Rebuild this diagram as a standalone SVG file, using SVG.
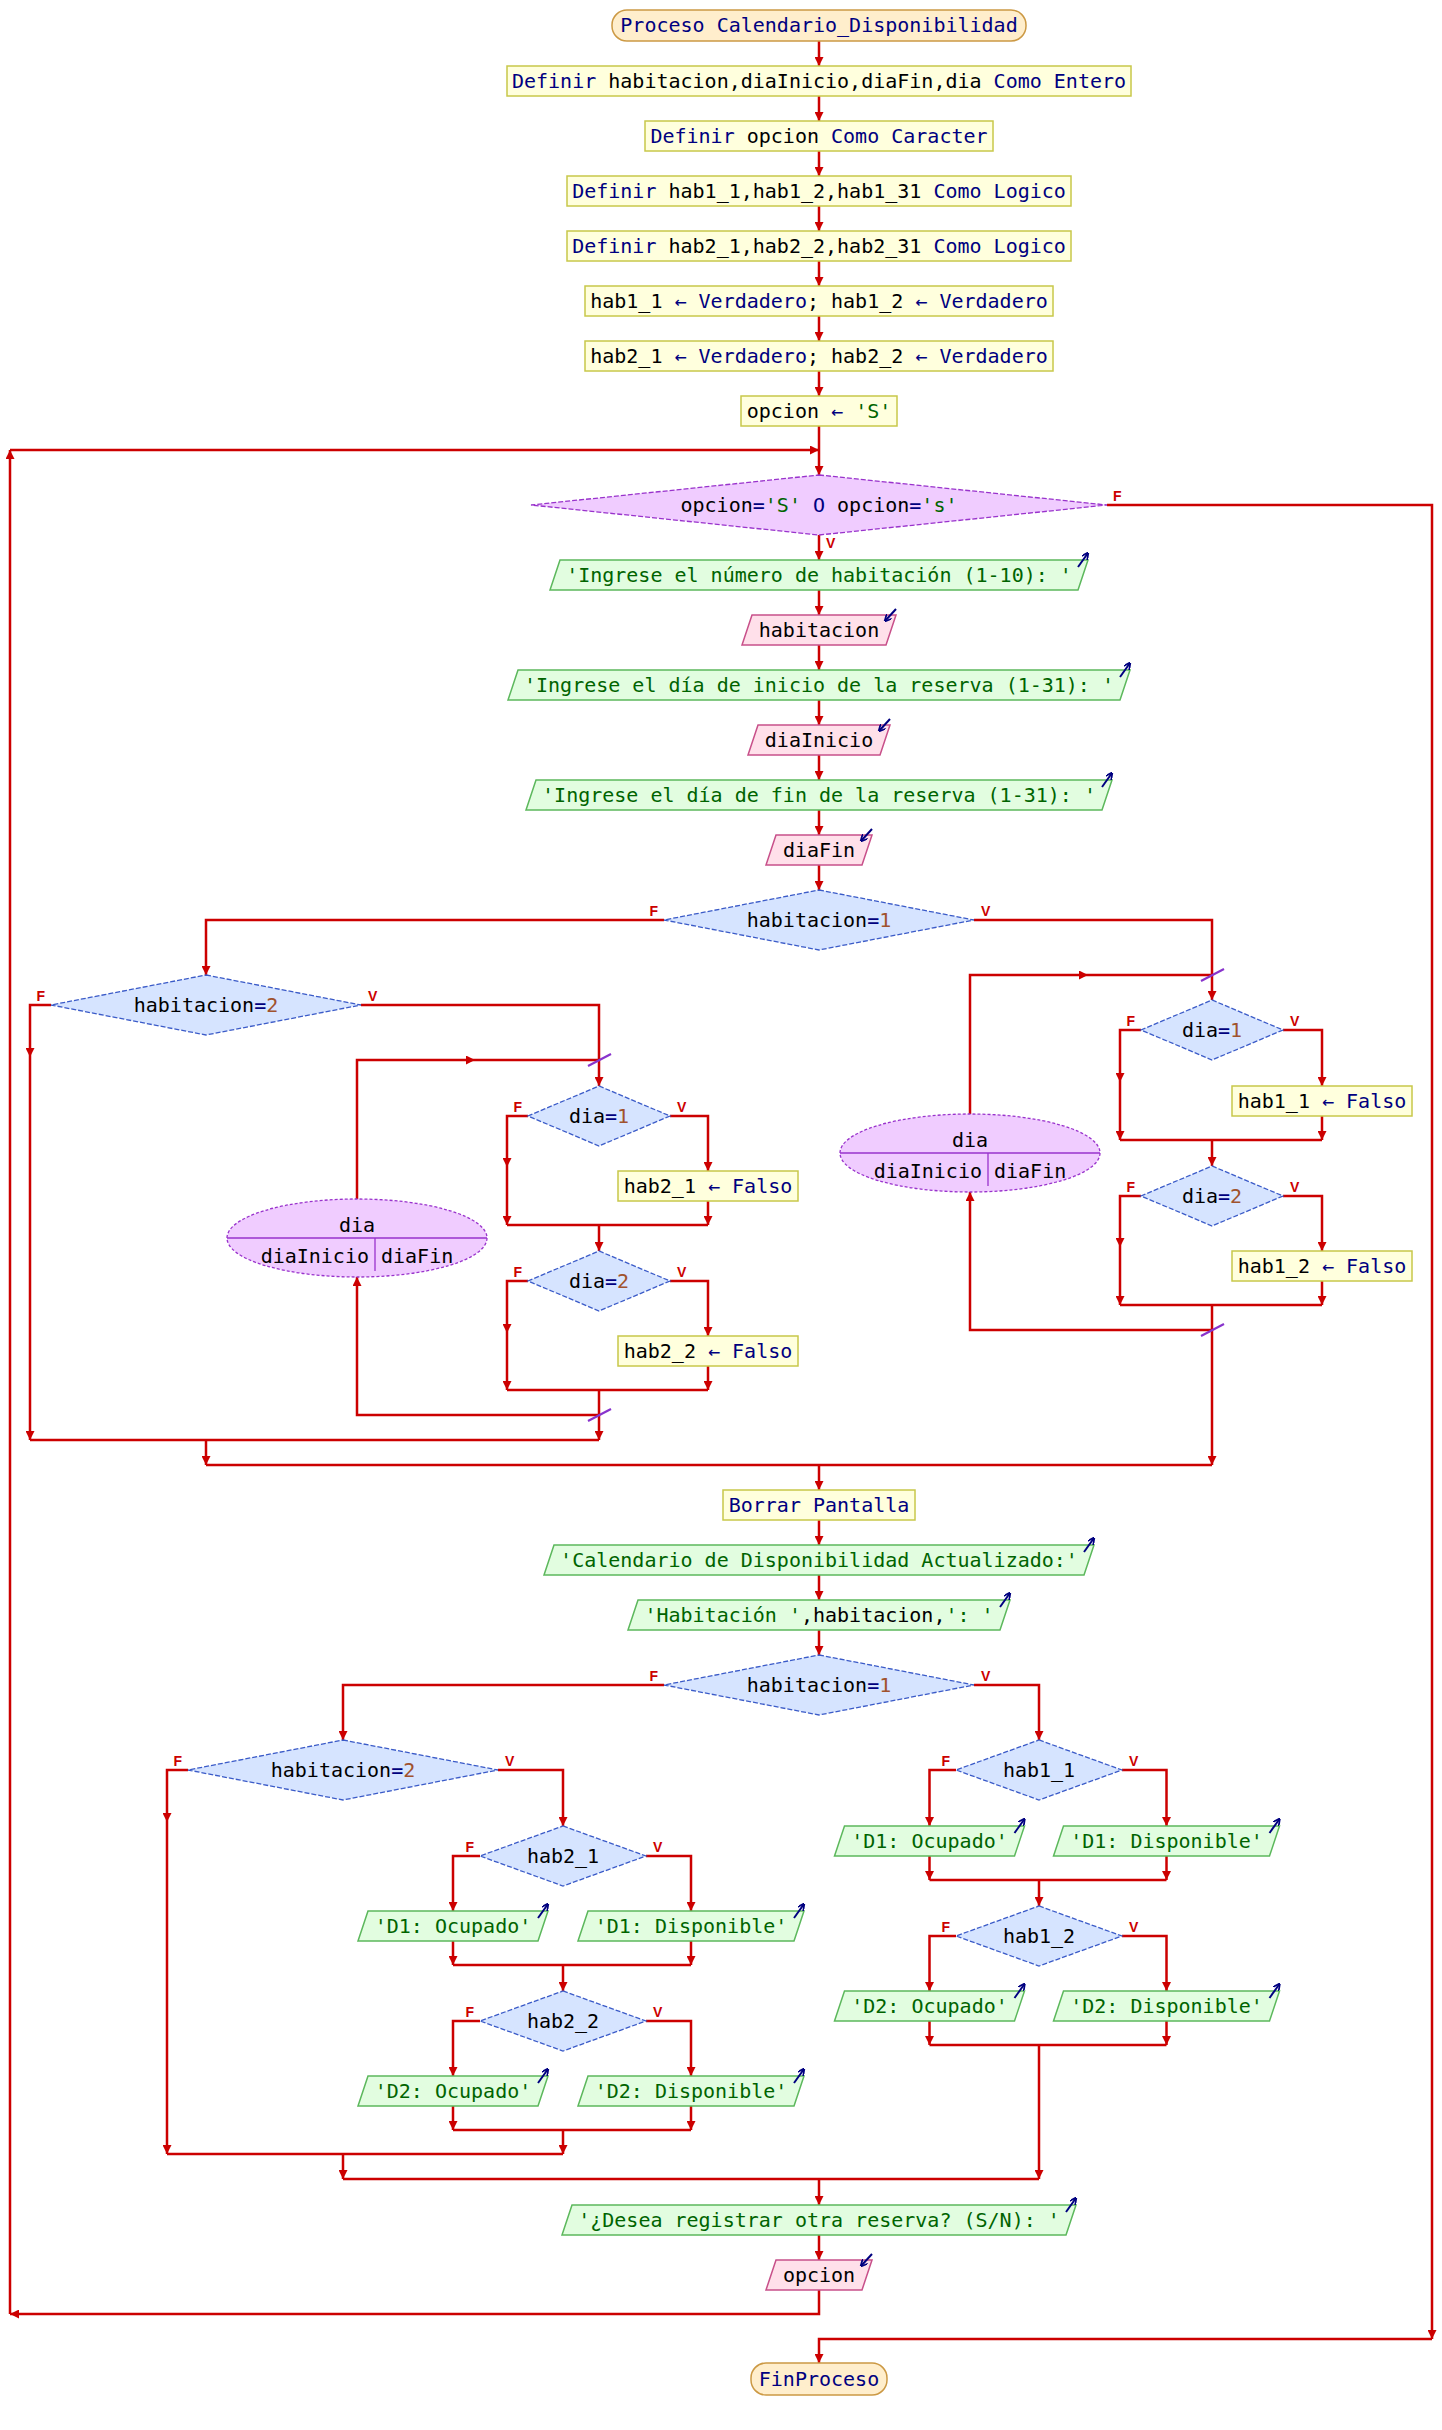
<svg xmlns="http://www.w3.org/2000/svg" width="1442" height="2430" viewBox="0 0 1442 2430">
<style>
.c{fill:none;stroke:#cc0000;stroke-width:2.5}
.a{marker-end:url(#ah)}
.proc{fill:#ffffdd;stroke:#c8c84a;stroke-width:1.5}
.term{fill:#ffeecc;stroke:#cc9944;stroke-width:1.5}
.out{fill:#e2fde0;stroke:#5cb85c;stroke-width:1.5}
.inp{fill:#ffe0ea;stroke:#c8508a;stroke-width:1.5}
.dec{fill:#d6e4ff;stroke:#3b5bc8;stroke-width:1.3;stroke-dasharray:5 2}
.wh{fill:#f0ccff;stroke:#9933cc;stroke-width:1.3;stroke-dasharray:5 2}
.lp{fill:#f0ccff;stroke:#9933cc;stroke-width:1.3;stroke-dasharray:3 2}
.dv{stroke:#9933cc;stroke-width:1.3}
.sl{stroke:#8833cc;stroke-width:2.2}
.ic{fill:none;stroke:#000080;stroke-width:2;marker-end:url(#ih)}
.t{font-family:"DejaVu Sans Mono",monospace;font-size:20px;text-anchor:middle;fill:#000}
.tl{font-family:"DejaVu Sans Mono",monospace;font-size:20px;fill:#000}
.k{fill:#000080}
.s{fill:#006400}
.n{fill:#a0522d}
.lf{font-family:"Liberation Sans",Arial,sans-serif;font-weight:bold;font-size:14px;fill:#cc0000;text-anchor:end}
.lv{font-family:"Liberation Sans",Arial,sans-serif;font-weight:bold;font-size:14px;fill:#cc0000}
</style>
<defs>
<marker id="ah" viewBox="0 0 10 10" refX="10" refY="5" markerWidth="9" markerHeight="9" markerUnits="userSpaceOnUse" orient="auto"><path d="M0,0 L10,5 L0,10 z" fill="#cc0000"/></marker>
<marker id="ih" viewBox="0 0 10 10" refX="9" refY="5" markerWidth="7" markerHeight="7" markerUnits="userSpaceOnUse" orient="auto"><path d="M0,0 L10,5 L0,10" fill="none" stroke="#000080" stroke-width="2.5"/></marker>
</defs>

<g id="connectors">
<path class="c a" d="M819,41 V66"/>
<path class="c a" d="M819,96 V121"/>
<path class="c a" d="M819,151 V176"/>
<path class="c a" d="M819,206 V231"/>
<path class="c a" d="M819,261 V286"/>
<path class="c a" d="M819,316 V341"/>
<path class="c a" d="M819,371 V396"/>
<path class="c a" d="M819,426 V475"/>
<path class="c a" d="M819,535 V560"/>
<path class="c a" d="M819,590 V615"/>
<path class="c a" d="M819,645 V670"/>
<path class="c a" d="M819,700 V725"/>
<path class="c a" d="M819,755 V780"/>
<path class="c a" d="M819,810 V835"/>
<path class="c a" d="M819,865 V890"/>
<path class="c a" d="M664,920 H206 V975"/>
<path class="c a" d="M974,920 H1212 V1000"/>
<!-- right loop -->
<path class="c a" d="M970,1114 V975 H1088"/>
<path class="c" d="M1088,975 H1212"/>
<path class="c a" d="M1141,1030 H1120 V1082"/>
<path class="c a" d="M1120,1082 V1140"/>
<path class="c a" d="M1283,1030 H1322 V1086"/>
<path class="c a" d="M1322,1116 V1140"/>
<path class="c" d="M1120,1140 H1322"/>
<path class="c a" d="M1212,1140 V1166"/>
<path class="c a" d="M1141,1196 H1120 V1247"/>
<path class="c a" d="M1120,1247 V1305"/>
<path class="c a" d="M1283,1196 H1322 V1251"/>
<path class="c a" d="M1322,1281 V1305"/>
<path class="c" d="M1120,1305 H1322"/>
<path class="c a" d="M1212,1305 V1465"/>
<path class="c a" d="M1212,1330 H970 V1192"/>
<!-- left loop -->
<path class="c a" d="M51,1005 H30 V1057"/>
<path class="c a" d="M30,1057 V1440"/>
<path class="c a" d="M361,1005 H599 V1086"/>
<path class="c a" d="M357,1199 V1060 H475"/>
<path class="c" d="M475,1060 H599"/>
<path class="c a" d="M528,1116 H507 V1167"/>
<path class="c a" d="M507,1167 V1225"/>
<path class="c a" d="M670,1116 H708 V1171"/>
<path class="c a" d="M708,1201 V1225"/>
<path class="c" d="M507,1225 H708"/>
<path class="c a" d="M599,1225 V1251"/>
<path class="c a" d="M528,1281 H507 V1333"/>
<path class="c a" d="M507,1333 V1390"/>
<path class="c a" d="M670,1281 H708 V1336"/>
<path class="c a" d="M708,1366 V1390"/>
<path class="c" d="M507,1390 H708"/>
<path class="c a" d="M599,1390 V1440"/>
<path class="c a" d="M599,1415 H357 V1277"/>
<path class="c" d="M30,1440 H599"/>
<path class="c a" d="M206,1440 V1465"/>
<path class="c" d="M206,1465 H1212"/>
<path class="c a" d="M819,1465 V1490"/>
<path class="c a" d="M819,1520 V1545"/>
<path class="c a" d="M819,1575 V1600"/>
<path class="c a" d="M819,1630 V1655"/>
<!-- lower -->
<path class="c a" d="M664,1685 H343 V1740"/>
<path class="c a" d="M974,1685 H1039 V1740"/>
<path class="c a" d="M188,1770 H167 V1822"/>
<path class="c a" d="M167,1822 V2154"/>
<path class="c a" d="M498,1770 H563 V1826"/>
<path class="c a" d="M480,1856 H453 V1911"/>
<path class="c a" d="M646,1856 H691 V1911"/>
<path class="c a" d="M453,1941 V1965"/>
<path class="c a" d="M691,1941 V1965"/>
<path class="c" d="M453,1965 H691"/>
<path class="c a" d="M563,1965 V1991"/>
<path class="c a" d="M480,2021 H453 V2076"/>
<path class="c a" d="M646,2021 H691 V2076"/>
<path class="c a" d="M453,2106 V2130"/>
<path class="c a" d="M691,2106 V2130"/>
<path class="c" d="M453,2130 H691"/>
<path class="c a" d="M563,2130 V2154"/>
<path class="c" d="M167,2154 H563"/>
<path class="c a" d="M343,2154 V2179"/>
<path class="c" d="M343,2179 H1039"/>
<path class="c a" d="M956,1770 H929.5 V1826"/>
<path class="c a" d="M1122,1770 H1166.5 V1826"/>
<path class="c a" d="M929.5,1856 V1880"/>
<path class="c a" d="M1166.5,1856 V1880"/>
<path class="c" d="M929.5,1880 H1166.5"/>
<path class="c a" d="M1039,1880 V1906"/>
<path class="c a" d="M956,1936 H929.5 V1991"/>
<path class="c a" d="M1122,1936 H1166.5 V1991"/>
<path class="c a" d="M929.5,2021 V2045"/>
<path class="c a" d="M1166.5,2021 V2045"/>
<path class="c" d="M929.5,2045 H1166.5"/>
<path class="c a" d="M1039,2045 V2179"/>
<path class="c a" d="M819,2179 V2205"/>
<path class="c a" d="M819,2235 V2260"/>
<path class="c a" d="M819,2290 V2314 H10"/>
<path class="c a" d="M10,2314 V450"/>
<path class="c a" d="M10,450 H819"/>
<path class="c a" d="M1107,505 H1432 V2339"/>
<path class="c a" d="M1432,2339 H819 V2363"/>
<!-- loop slashes -->
<line class="sl" x1="1201" y1="981" x2="1224" y2="969"/>
<line class="sl" x1="1201" y1="1336" x2="1224" y2="1324"/>
<line class="sl" x1="588" y1="1066" x2="611" y2="1054"/>
<line class="sl" x1="588" y1="1421" x2="611" y2="1409"/>
<!-- labels -->
<text class="lv" x="1113" y="501">F</text>
<text class="lv" x="826" y="548">V</text>
<text class="lf" x="658" y="916">F</text>
<text class="lv" x="981" y="916">V</text>
<text class="lf" x="45" y="1001">F</text>
<text class="lv" x="368" y="1001">V</text>
<text class="lf" x="522" y="1112">F</text>
<text class="lv" x="677" y="1112">V</text>
<text class="lf" x="522" y="1277">F</text>
<text class="lv" x="677" y="1277">V</text>
<text class="lf" x="1135" y="1026">F</text>
<text class="lv" x="1290" y="1026">V</text>
<text class="lf" x="1135" y="1192">F</text>
<text class="lv" x="1290" y="1192">V</text>
<text class="lf" x="658" y="1681">F</text>
<text class="lv" x="981" y="1681">V</text>
<text class="lf" x="182" y="1766">F</text>
<text class="lv" x="505" y="1766">V</text>
<text class="lf" x="474" y="1852">F</text>
<text class="lv" x="653" y="1852">V</text>
<text class="lf" x="474" y="2017">F</text>
<text class="lv" x="653" y="2017">V</text>
<text class="lf" x="950" y="1766">F</text>
<text class="lv" x="1129" y="1766">V</text>
<text class="lf" x="950" y="1932">F</text>
<text class="lv" x="1129" y="1932">V</text>
</g>

<g id="n_inicio"><rect class="term" x="612" y="10" width="414" height="31" rx="15"/><text class="t k" x="819" y="32">Proceso Calendario_Disponibilidad</text></g>
<g id="n_def1"><rect class="proc" x="507" y="66" width="624" height="30"/><text class="t" x="819" y="88"><tspan class="k">Definir</tspan> habitacion,diaInicio,diaFin,dia <tspan class="k">Como Entero</tspan></text></g>
<g id="n_def2"><rect class="proc" x="645" y="121" width="348" height="30"/><text class="t" x="819" y="143"><tspan class="k">Definir</tspan> opcion <tspan class="k">Como Caracter</tspan></text></g>
<g id="n_def3"><rect class="proc" x="567" y="176" width="504" height="30"/><text class="t" x="819" y="198"><tspan class="k">Definir</tspan> hab1_1,hab1_2,hab1_31 <tspan class="k">Como Logico</tspan></text></g>
<g id="n_def4"><rect class="proc" x="567" y="231" width="504" height="30"/><text class="t" x="819" y="253"><tspan class="k">Definir</tspan> hab2_1,hab2_2,hab2_31 <tspan class="k">Como Logico</tspan></text></g>
<g id="n_asig1"><rect class="proc" x="585" y="286" width="468" height="30"/><text class="t" x="819" y="308">hab1_1 <tspan class="k">← Verdadero</tspan>; hab1_2 <tspan class="k">← Verdadero</tspan></text></g>
<g id="n_asig2"><rect class="proc" x="585" y="341" width="468" height="30"/><text class="t" x="819" y="363">hab2_1 <tspan class="k">← Verdadero</tspan>; hab2_2 <tspan class="k">← Verdadero</tspan></text></g>
<g id="n_asig3"><rect class="proc" x="741" y="396" width="156" height="30"/><text class="t" x="819" y="418">opcion <tspan class="k">←</tspan> <tspan class="s">'S'</tspan></text></g>
<g id="n_mientras"><polygon class="wh" points="819,475 1107,505 819,535 531,505"/><text class="t" x="819" y="512">opcion<tspan class="k">=</tspan><tspan class="s">'S'</tspan> <tspan class="k">O</tspan> opcion<tspan class="k">=</tspan><tspan class="s">'s'</tspan></text></g>
<g id="n_esc1"><polygon class="out" points="560,560 1088,560 1078,590 550,590"/><text class="t s" x="819" y="582">'Ingrese el número de habitación (1-10): '</text><path class="ic" d="M1078,567 L1088,553"/></g>
<g id="n_leer1"><polygon class="inp" points="752,615 896,615 886,645 742,645"/><text class="t" x="819" y="637">habitacion</text><path class="ic" d="M896,609 L885,621"/></g>
<g id="n_esc2"><polygon class="out" points="518,670 1130,670 1120,700 508,700"/><text class="t s" x="819" y="692">'Ingrese el día de inicio de la reserva (1-31): '</text><path class="ic" d="M1120,677 L1130,663"/></g>
<g id="n_leer2"><polygon class="inp" points="758,725 890,725 880,755 748,755"/><text class="t" x="819" y="747">diaInicio</text><path class="ic" d="M890,719 L879,731"/></g>
<g id="n_esc3"><polygon class="out" points="536,780 1112,780 1102,810 526,810"/><text class="t s" x="819" y="802">'Ingrese el día de fin de la reserva (1-31): '</text><path class="ic" d="M1102,787 L1112,773"/></g>
<g id="n_leer3"><polygon class="inp" points="776,835 872,835 862,865 766,865"/><text class="t" x="819" y="857">diaFin</text><path class="ic" d="M872,829 L861,841"/></g>
<g id="n_si1"><polygon class="dec" points="819,890 974,920 819,950 664,920"/><text class="t" x="819" y="927">habitacion<tspan class="k">=</tspan><tspan class="n">1</tspan></text></g>

<g id="n_para1"><ellipse class="lp" cx="970" cy="1153" rx="130" ry="39"/><line class="dv" x1="840" y1="1153" x2="1100" y2="1153"/><line class="dv" x1="988" y1="1153" x2="988" y2="1186"/><text class="t" x="970" y="1147">dia</text><text class="tl" x="982" y="1178" text-anchor="end">diaInicio</text><text class="tl" x="994" y="1178">diaFin</text></g>
<g id="n_si_r1"><polygon class="dec" points="1212,1000 1283,1030 1212,1060 1141,1030"/><text class="t" x="1212" y="1037">dia<tspan class="k">=</tspan><tspan class="n">1</tspan></text></g>
<g id="n_asig_r1"><rect class="proc" x="1232" y="1086" width="180" height="30"/><text class="t" x="1322" y="1108">hab1_1 <tspan class="k">← Falso</tspan></text></g>
<g id="n_si_r2"><polygon class="dec" points="1212,1166 1283,1196 1212,1226 1141,1196"/><text class="t" x="1212" y="1203">dia<tspan class="k">=</tspan><tspan class="n">2</tspan></text></g>
<g id="n_asig_r2"><rect class="proc" x="1232" y="1251" width="180" height="30"/><text class="t" x="1322" y="1273">hab1_2 <tspan class="k">← Falso</tspan></text></g>

<g id="n_si2"><polygon class="dec" points="206,975 361,1005 206,1035 51,1005"/><text class="t" x="206" y="1012">habitacion<tspan class="k">=</tspan><tspan class="n">2</tspan></text></g>
<g id="n_para2"><ellipse class="lp" cx="357" cy="1238" rx="130" ry="39"/><line class="dv" x1="227" y1="1238" x2="487" y2="1238"/><line class="dv" x1="375" y1="1238" x2="375" y2="1271"/><text class="t" x="357" y="1232">dia</text><text class="tl" x="369" y="1263" text-anchor="end">diaInicio</text><text class="tl" x="381" y="1263">diaFin</text></g>
<g id="n_si_l1"><polygon class="dec" points="599,1086 670,1116 599,1146 528,1116"/><text class="t" x="599" y="1123">dia<tspan class="k">=</tspan><tspan class="n">1</tspan></text></g>
<g id="n_asig_l1"><rect class="proc" x="618" y="1171" width="180" height="30"/><text class="t" x="708" y="1193">hab2_1 <tspan class="k">← Falso</tspan></text></g>
<g id="n_si_l2"><polygon class="dec" points="599,1251 670,1281 599,1311 528,1281"/><text class="t" x="599" y="1288">dia<tspan class="k">=</tspan><tspan class="n">2</tspan></text></g>
<g id="n_asig_l2"><rect class="proc" x="618" y="1336" width="180" height="30"/><text class="t" x="708" y="1358">hab2_2 <tspan class="k">← Falso</tspan></text></g>

<g id="n_borrar"><rect class="proc" x="723" y="1490" width="192" height="30"/><text class="t k" x="819" y="1512">Borrar Pantalla</text></g>
<g id="n_esc4"><polygon class="out" points="554,1545 1094,1545 1084,1575 544,1575"/><text class="t s" x="819" y="1567">'Calendario de Disponibilidad Actualizado:'</text><path class="ic" d="M1084,1552 L1094,1538"/></g>
<g id="n_esc5"><polygon class="out" points="638,1600 1010,1600 1000,1630 628,1630"/><text class="t" x="819" y="1622"><tspan class="s">'Habitación '</tspan>,habitacion,<tspan class="s">': '</tspan></text><path class="ic" d="M1000,1607 L1010,1593"/></g>
<g id="n_si3"><polygon class="dec" points="819,1655 974,1685 819,1715 664,1685"/><text class="t" x="819" y="1692">habitacion<tspan class="k">=</tspan><tspan class="n">1</tspan></text></g>

<g id="n_si_h11"><polygon class="dec" points="1039,1740 1122,1770 1039,1800 956,1770"/><text class="t" x="1039" y="1777">hab1_1</text></g>
<g id="n_o_r1f"><polygon class="out" points="844.5,1826 1024.5,1826 1014.5,1856 834.5,1856"/><text class="t s" x="929.5" y="1848">'D1: Ocupado'</text><path class="ic" d="M1014.5,1833 L1024.5,1819"/></g>
<g id="n_o_r1v"><polygon class="out" points="1063.5,1826 1279.5,1826 1269.5,1856 1053.5,1856"/><text class="t s" x="1166.5" y="1848">'D1: Disponible'</text><path class="ic" d="M1269.5,1833 L1279.5,1819"/></g>
<g id="n_si_h12"><polygon class="dec" points="1039,1906 1122,1936 1039,1966 956,1936"/><text class="t" x="1039" y="1943">hab1_2</text></g>
<g id="n_o_r2f"><polygon class="out" points="844.5,1991 1024.5,1991 1014.5,2021 834.5,2021"/><text class="t s" x="929.5" y="2013">'D2: Ocupado'</text><path class="ic" d="M1014.5,1998 L1024.5,1984"/></g>
<g id="n_o_r2v"><polygon class="out" points="1063.5,1991 1279.5,1991 1269.5,2021 1053.5,2021"/><text class="t s" x="1166.5" y="2013">'D2: Disponible'</text><path class="ic" d="M1269.5,1998 L1279.5,1984"/></g>

<g id="n_si4"><polygon class="dec" points="343,1740 498,1770 343,1800 188,1770"/><text class="t" x="343" y="1777">habitacion<tspan class="k">=</tspan><tspan class="n">2</tspan></text></g>
<g id="n_si_h21"><polygon class="dec" points="563,1826 646,1856 563,1886 480,1856"/><text class="t" x="563" y="1863">hab2_1</text></g>
<g id="n_o_l1f"><polygon class="out" points="368,1911 548,1911 538,1941 358,1941"/><text class="t s" x="453" y="1933">'D1: Ocupado'</text><path class="ic" d="M538,1918 L548,1904"/></g>
<g id="n_o_l1v"><polygon class="out" points="588,1911 804,1911 794,1941 578,1941"/><text class="t s" x="691" y="1933">'D1: Disponible'</text><path class="ic" d="M794,1918 L804,1904"/></g>
<g id="n_si_h22"><polygon class="dec" points="563,1991 646,2021 563,2051 480,2021"/><text class="t" x="563" y="2028">hab2_2</text></g>
<g id="n_o_l2f"><polygon class="out" points="368,2076 548,2076 538,2106 358,2106"/><text class="t s" x="453" y="2098">'D2: Ocupado'</text><path class="ic" d="M538,2083 L548,2069"/></g>
<g id="n_o_l2v"><polygon class="out" points="588,2076 804,2076 794,2106 578,2106"/><text class="t s" x="691" y="2098">'D2: Disponible'</text><path class="ic" d="M794,2083 L804,2069"/></g>

<g id="n_esc6"><polygon class="out" points="572,2205 1076,2205 1066,2235 562,2235"/><text class="t s" x="819" y="2227">'¿Desea registrar otra reserva? (S/N): '</text><path class="ic" d="M1066,2212 L1076,2198"/></g>
<g id="n_leer4"><polygon class="inp" points="776,2260 872,2260 862,2290 766,2290"/><text class="t" x="819" y="2282">opcion</text><path class="ic" d="M872,2254 L861,2266"/></g>
<g id="n_fin"><rect class="term" x="751" y="2363" width="136" height="32" rx="15"/><text class="t k" x="819" y="2386">FinProceso</text></g>
</svg>
